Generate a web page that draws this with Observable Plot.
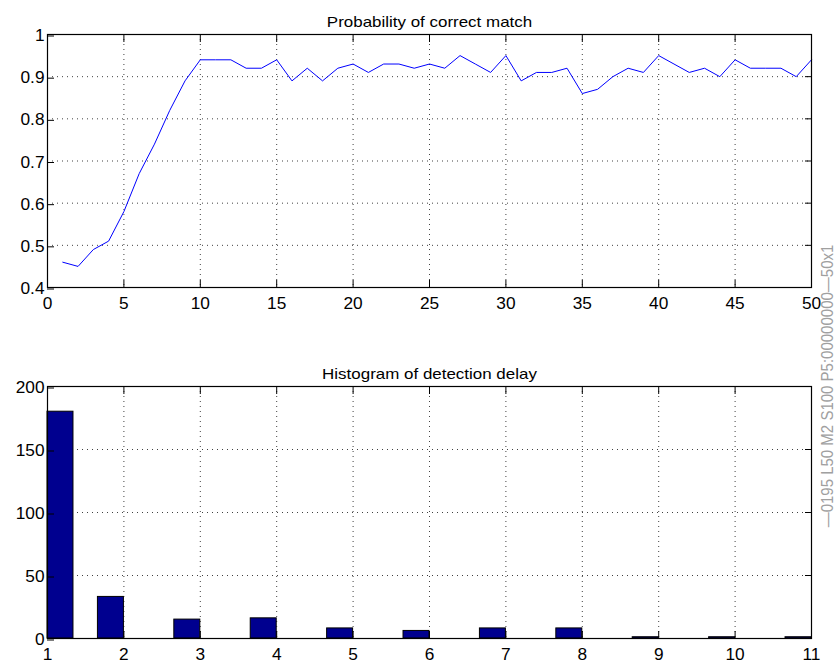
<!DOCTYPE html>
<html>
<head>
<meta charset="utf-8">
<script src="https://cdn.jsdelivr.net/npm/d3@7"></script>
<script src="https://cdn.jsdelivr.net/npm/@observablehq/plot@0.6"></script>
<style>
  html, body { margin: 0; padding: 0; background: #fff; }
  #page { position: relative; width: 837px; height: 665px; overflow: hidden; background: #fff;
          font-family: "Liberation Sans", Arial, Helvetica, sans-serif; }
  #top, #bottom { position: absolute; left: 0; }
  #top { top: 0; }
  #bottom { top: 330px; }
  #stamp { position: absolute; left: 827px; top: 386px; white-space: nowrap; font-size: 15px; line-height: 1;
           color: #a0a0a0; transform: translate(-50%, -50%) rotate(-90deg) scaleY(1.05); }
</style>
</head>
<body>
<div id="page">
  <div id="top"></div>
  <div id="bottom"></div>
  <div id="stamp"></div>
</div>
<script>
// Probability of a correct match for each of the 50 trials
const matchTitle = "Probability of correct match";
const matchProb = [
  0.46, 0.45, 0.49, 0.51, 0.58, 0.67, 0.74, 0.82, 0.89, 0.94,
  0.94, 0.94, 0.92, 0.92, 0.94, 0.89, 0.92, 0.89, 0.92, 0.93,
  0.91, 0.93, 0.93, 0.92, 0.93, 0.92, 0.95, 0.93, 0.91, 0.95,
  0.89, 0.91, 0.91, 0.92, 0.86, 0.87, 0.90, 0.92, 0.91, 0.95,
  0.93, 0.91, 0.92, 0.90, 0.94, 0.92, 0.92, 0.92, 0.90, 0.94
];
const matchXTicks = [0, 5, 10, 15, 20, 25, 30, 35, 40, 45, 50];
const matchYTicks = [0.4, 0.5, 0.6, 0.7, 0.8, 0.9, 1];

// Histogram of detection delay
const delayTitle = "Histogram of detection delay";
const delays = [1, 2, 3, 4, 5, 6, 7, 8, 9, 10, 11];
const delayCounts = [180, 33, 15, 16, 8, 6, 8, 8, 1, 1, 1];
const delayYTicks = [0, 50, 100, 150, 200];

const stampText = "\u20140195 L50 M2 S100 P5:00000000\u201450x1";

const matchData = matchProb.map((p, i) => ({trial: i + 1, p}));
const delayData = delays.map((d, i) => ({delay: d, count: delayCounts[i]}));

const FONT = "'Liberation Sans', Arial, Helvetica, sans-serif";
const TITLE_STRETCH = 1.13;  // horizontal widening of title glyphs
const TICK_STRETCH = 1.08;   // horizontal widening of tick-label glyphs
const TICK = -7;             // inward tick marks
const gridStyle = {stroke: "#000", strokeOpacity: 0.75, strokeDasharray: "1,4", strokeWidth: 1};
const style = {fontFamily: FONT, fontSize: "16px", color: "#000", background: "#fff", overflow: "visible"};
const blank = () => "";
const fmtProb = d => String(+d.toFixed(1));

function boxAxes(xTicks, yTicks, yFormat) {
  return [
    Plot.axisX(xTicks, {anchor: "bottom", tickSize: TICK, tickPadding: 17, label: null, stroke: "#000", fontSize: 16}),
    Plot.axisX(xTicks, {anchor: "top", tickSize: TICK, tickPadding: 0, tickFormat: blank, label: null, stroke: "#000"}),
    Plot.axisY(yTicks, {anchor: "left", tickSize: TICK, tickPadding: 10, tickFormat: yFormat, label: null, stroke: "#000", dy: 1.5, fontSize: 16}),
    Plot.axisY(yTicks, {anchor: "right", tickSize: TICK, tickPadding: 0, tickFormat: blank, label: null, stroke: "#000"})
  ];
}

const topPlot = Plot.plot({
  width: 837, height: 320,
  marginLeft: 47, marginRight: 26, marginTop: 34, marginBottom: 33,
  style,
  x: {domain: [0, 50]},
  y: {domain: [0.4, 1]},
  marks: [
    Plot.gridX(matchXTicks, gridStyle),
    Plot.gridY(matchYTicks, gridStyle),
    Plot.line(matchData, {x: "trial", y: "p", stroke: "#0000ff", strokeWidth: 1}),
    Plot.frame({stroke: "#000", strokeWidth: 1.2}),
    ...boxAxes(matchXTicks, matchYTicks, fmtProb),
    Plot.text([matchTitle], {frameAnchor: "top", dy: -18.3, fontSize: 15, fill: "#000"})
  ]
});

const barW = 0.34;
const firstDelay = delays[0];
const bottomPlot = Plot.plot({
  width: 837, height: 335,
  marginLeft: 47, marginRight: 26, marginTop: 56, marginBottom: 27,
  style,
  x: {domain: [1, 11]},
  y: {domain: [0, 200]},
  marks: [
    Plot.gridX(delays, gridStyle),
    Plot.gridY(delayYTicks, gridStyle),
    Plot.rectY(delayData, {
      x1: d => d.delay === firstDelay ? d.delay : d.delay - barW,
      x2: d => d.delay === firstDelay ? d.delay + barW : d.delay,
      y1: 0, y2: "count",
      fill: "#00008f", stroke: "#000", strokeWidth: 1
    }),
    Plot.frame({stroke: "#000", strokeWidth: 1.2}),
    ...boxAxes(delays, delayYTicks, d => String(d)),
    Plot.text([delayTitle], {frameAnchor: "top", dy: -18.3, fontSize: 15, fill: "#000"})
  ]
});

// widen every label about its own anchor point
function widen(svg) {
  for (const t of svg.querySelectorAll("text")) {
    const g = t.closest("g[aria-label]");
    const isTick = g && /tick label/.test(g.getAttribute("aria-label"));
    const s = isTick ? TICK_STRETCH : TITLE_STRETCH;
    const tr = t.getAttribute("transform");
    if (tr) t.setAttribute("transform", tr + ` scale(${s},1)`);
    else {
      const x = +t.getAttribute("x") || 0;
      t.setAttribute("x", x / s);
      t.setAttribute("transform", `scale(${s},1)`);
    }
  }
  return svg;
}

document.getElementById("top").appendChild(widen(topPlot));
document.getElementById("bottom").appendChild(widen(bottomPlot));
document.getElementById("stamp").textContent = stampText;
</script>
</body>
</html>
